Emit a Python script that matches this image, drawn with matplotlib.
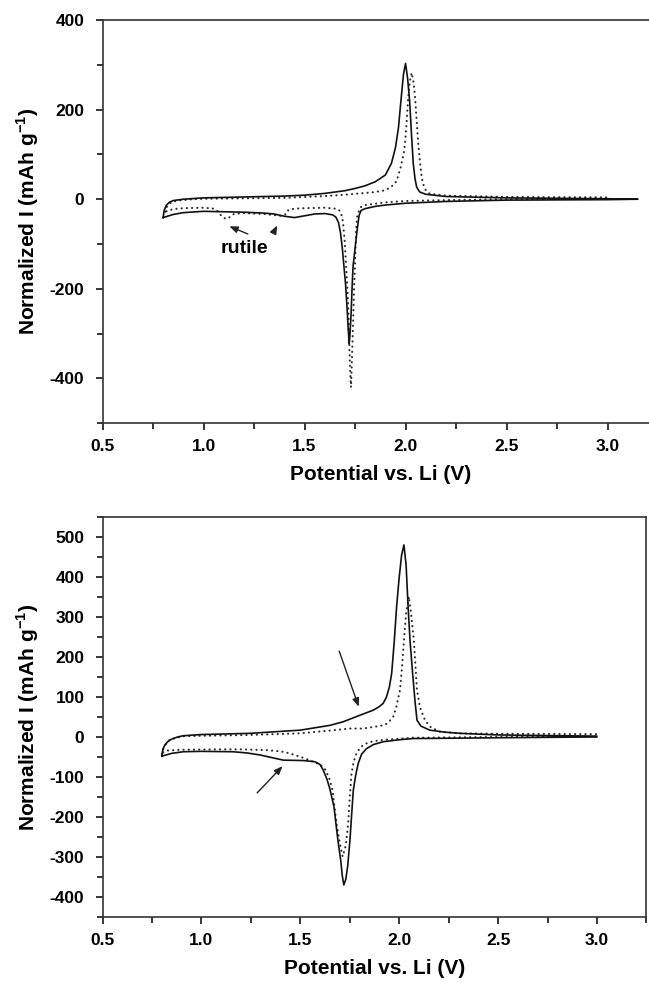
import numpy as np
import matplotlib
matplotlib.use('Agg')
import matplotlib.pyplot as plt
from matplotlib.ticker import MultipleLocator

plt.rcParams['font.family'] = ['Liberation Sans', 'DejaVu Sans']
plt.rcParams['font.weight'] = 'bold'
plt.rcParams['axes.unicode_minus'] = False
plt.rcParams['mathtext.fontset'] = 'custom'
plt.rcParams['mathtext.rm'] = 'Liberation Sans'
plt.rcParams['mathtext.bf'] = 'Liberation Sans:bold'

# ---------------------------------------------------------------- top panel
# each curve is one closed CV loop: anodic sweep up, cathodic sweep back
top_solid_x = [0.80, 0.805, 0.815, 0.83, 0.85, 0.90, 1.00, 1.20, 1.40, 1.50, 1.60, 1.70,
               1.75, 1.80, 1.85, 1.90, 1.93, 1.95, 1.965, 1.975, 1.99, 2.00, 2.01, 2.02,
               2.03, 2.038, 2.047, 2.055, 2.07, 2.10, 2.20, 2.50, 3.00, 3.15,
               3.15, 3.00, 2.50, 2.20, 2.00, 1.90, 1.85, 1.80, 1.78, 1.77, 1.76, 1.75,
               1.74, 1.735, 1.73, 1.725, 1.721, 1.716, 1.71, 1.703, 1.695, 1.687, 1.678,
               1.668, 1.655, 1.64, 1.60, 1.55, 1.50, 1.45, 1.40, 1.35, 1.30, 1.20, 1.00,
               0.90, 0.85, 0.80]
top_solid_y = [-41, -25, -14, -7, -3, 0, 3, 5, 7, 9, 13, 19,
               24, 30, 39, 54, 80, 115, 160, 210, 280, 303, 270, 220,
               140, 80, 45, 27, 16, 11, 6, 3, 1, 0,
               0, -1, -2, -5, -9, -13, -16, -21, -25, -36, -70, -110,
               -150, -200, -260, -300, -322, -290, -240, -190, -150, -110, -75,
               -52, -40, -35, -32, -33, -37, -41, -38, -33, -31, -29, -27,
               -30, -34, -41]

top_dot_x = [0.81, 0.82, 0.84, 0.87, 0.95, 1.00, 1.20, 1.40, 1.50, 1.60, 1.70, 1.75,
             1.80, 1.85, 1.90, 1.93, 1.955, 1.975, 1.99, 1.997, 2.005, 2.013, 2.022,
             2.03, 2.038, 2.047, 2.055, 2.063, 2.072, 2.08, 2.09, 2.10, 2.12, 2.20,
             2.50, 3.00,
             3.00, 2.50, 2.20, 2.00, 1.90, 1.85, 1.80, 1.78, 1.77, 1.76, 1.755, 1.75,
             1.745, 1.74, 1.735, 1.73, 1.726, 1.722, 1.718, 1.712, 1.705, 1.698, 1.69,
             1.68, 1.67, 1.65, 1.60, 1.50, 1.45, 1.42, 1.41, 1.38, 1.30, 1.20, 1.15,
             1.13, 1.11, 1.09, 1.07, 1.05, 1.00, 0.90, 0.85, 0.81]
top_dot_y = [-28, -15, -7, -3, 0, 1, 2, 3, 5, 7, 10, 12,
             14, 16, 20, 28, 40, 70, 100, 123, 170, 228, 265,
             282, 265, 228, 175, 123, 80, 48, 30, 20, 12, 8,
             5, 4,
             1, 0, -2, -4, -7, -10, -13, -17, -25, -40, -70, -140,
             -200, -280, -350, -420, -390, -330, -260, -200, -143, -90, -50,
             -30, -24, -21, -19, -20, -21, -24, -33, -37, -33, -31, -33,
             -40, -44, -38, -27, -21, -19, -20, -22, -28]

# ------------------------------------------------------------- bottom panel
bot_solid_x = [0.80, 0.805, 0.815, 0.835, 0.857, 0.88, 0.908, 1.00, 1.245, 1.50, 1.65,
               1.717, 1.80, 1.869, 1.90, 1.919, 1.935, 1.95, 1.962, 1.975, 1.987, 2.00,
               2.012, 2.024, 2.035, 2.045, 2.055, 2.068, 2.08, 2.09, 2.11, 2.155, 2.23,
               2.307, 2.50, 3.00,
               3.00, 2.50, 2.307, 2.07, 2.00, 1.919, 1.87, 1.835, 1.81, 1.793, 1.78,
               1.768, 1.76, 1.751, 1.74, 1.73, 1.72, 1.712, 1.705, 1.69, 1.68, 1.67,
               1.65, 1.635, 1.616, 1.60, 1.574, 1.515, 1.414, 1.35, 1.296, 1.23, 1.16,
               1.00, 0.908, 0.85, 0.80]
bot_solid_y = [-47, -30, -19, -8, -3, 1, 4, 7, 10, 18, 30,
               39, 55, 68, 77, 85, 100, 125, 160, 240, 327, 400,
               455, 481, 430, 327, 240, 160, 90, 43, 28, 18, 13,
               10, 6, 3,
               1, -1, -2, -3, -6, -11, -18, -28, -42, -65, -95,
               -132, -190, -257, -320, -355, -369, -345, -310, -257, -215, -173,
               -130, -105, -82, -68, -61, -58, -57, -50, -44, -39, -36,
               -35, -36, -40, -47]

bot_dot_x = [0.80, 0.81, 0.83, 0.86, 0.908, 1.245, 1.50, 1.65, 1.75, 1.818, 1.87,
             1.928, 1.95, 1.97, 1.985, 2.004, 2.015, 2.024, 2.035, 2.049, 2.06, 2.074,
             2.082, 2.09, 2.105, 2.13, 2.16, 2.206, 2.307, 2.50, 3.00,
             3.00, 2.50, 2.07, 1.902, 1.85, 1.818, 1.80, 1.784, 1.77, 1.759, 1.75,
             1.742, 1.73, 1.714, 1.70, 1.683, 1.672, 1.663, 1.645, 1.625, 1.60, 1.565,
             1.52, 1.47, 1.447, 1.40, 1.33, 1.20, 1.077, 0.90, 0.824, 0.805, 0.80]
bot_dot_y = [-42, -25, -10, -3, 3, 6, 10, 17, 22, 22, 26,
             31, 40, 52, 75, 118, 180, 243, 310, 352, 310, 243,
             180, 118, 75, 43, 25, 14, 10, 9, 8,
             2, 1, -1, -7, -12, -19, -28, -40, -60, -90, -150,
             -215, -270, -298, -265, -215, -170, -132, -100, -80, -68, -61,
             -52, -44, -40, -35, -32, -30, -30, -31, -33, -38, -42]

top_yticks = [-400, -200, 0, 200, 400]
bot_yticks = [-400, -300, -200, -100, 0, 100, 200, 300, 400, 500]
xticks = [0.5, 1.0, 1.5, 2.0, 2.5, 3.0]

fig = plt.figure(figsize=(6.49, 9.83), dpi=100)
ax1 = fig.add_axes([0.158, 0.5694, 0.856, 0.4103])
ax2 = fig.add_axes([0.158, 0.0668, 0.838, 0.4069])

dot_style = dict(color='#2a2a2a', lw=1.5, linestyle=(0, (0.1, 2.4)),
                 dash_capstyle='round')
solid_style = dict(color='#111111', lw=1.2)

ax1.plot(top_dot_x, top_dot_y, **dot_style)
ax1.plot(top_solid_x, top_solid_y, **solid_style)
ax2.plot(bot_dot_x, bot_dot_y, **dot_style)
ax2.plot(bot_solid_x, bot_solid_y, **solid_style)

ax1.set_xlim(0.5, 3.25)
ax1.set_ylim(-500, 400)
ax1.set_yticks(top_yticks)
ax1.yaxis.set_minor_locator(MultipleLocator(100))
ax2.set_xlim(0.5, 3.25)
ax2.set_ylim(-450, 550)
ax2.set_yticks(bot_yticks)
ax2.yaxis.set_minor_locator(MultipleLocator(50))

for ax in (ax1, ax2):
    ax.set_xticks(xticks)
    ax.set_xticklabels(['%.1f' % v for v in xticks])
    ax.xaxis.set_minor_locator(MultipleLocator(0.25))
    ax.tick_params(which='both', direction='out', width=1.1, top=False, right=False)
    ax.tick_params(which='major', length=5, labelsize=12.5)
    ax.tick_params(which='minor', length=4)
    ax.tick_params(axis='y', pad=8)
    ax.tick_params(axis='x', pad=6)
    for s in ax.spines.values():
        s.set_linewidth(1.2)
        s.set_color('#333333')
    ax.set_xlabel('Potential vs. Li (V)', fontsize=15, fontweight='bold', labelpad=8)
    ax.set_ylabel(r'Normalized I (mAh g$^{\mathbf{-1}}$)', fontsize=15,
                  fontweight='bold', labelpad=6)

# annotations
arrow = dict(arrowstyle='-|>,head_length=0.5,head_width=0.2', color='#222222', lw=1.0)
ax1.text(1.20, -110, 'rutile', fontsize=14, fontweight='bold', ha='center', va='center')
ax1.annotate('', xy=(1.115, -58), xytext=(1.232, -80), arrowprops=arrow)
ax1.annotate('', xy=(1.371, -53), xytext=(1.34, -80), arrowprops=arrow)

ax2.annotate('', xy=(1.80, 70), xytext=(1.692, 222), arrowprops=arrow)
ax2.annotate('', xy=(1.42, -67), xytext=(1.272, -144), arrowprops=arrow)

fig.savefig('out.png', dpi=100)
